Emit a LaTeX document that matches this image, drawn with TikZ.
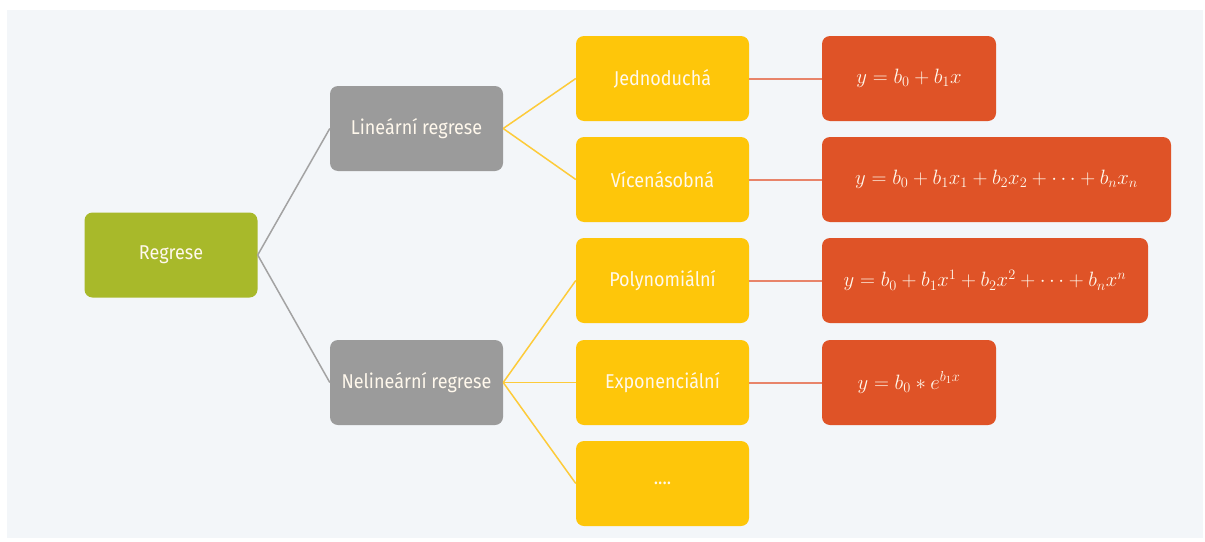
\documentclass[tikz,border=0pt]{standalone}
\usepackage{fontspec}
\newfontfamily\labfont[FakeStretch=0.9]{Fira Sans}
\definecolor{panel}{HTML}{F3F6F9}
\definecolor{cgreen}{HTML}{A8B92A}
\definecolor{cgray}{HTML}{9B9B9B}
\definecolor{cyellow}{HTML}{FEC60A}
\definecolor{corange}{HTML}{DF5327}
\definecolor{lgray}{HTML}{A3A3A3}
\definecolor{lyellow}{HTML}{FDCB3A}
\definecolor{lsalmon}{HTML}{E8846A}
\definecolor{ctext}{HTML}{FFF8EC}
\begin{document}
\begin{tikzpicture}[x=1pt,y=-1pt,
  box/.style={rectangle, rounded corners=8pt, minimum width=173pt, minimum height=85pt,
    inner sep=0pt, text=ctext, font=\labfont\fontsize{20}{24}\selectfont},
  greenbox/.style={box, fill=cgreen},
  graybox/.style={box, fill=cgray},
  yellowbox/.style={box, fill=cyellow},
  eqbox/.style={box, fill=corange, font=\fontsize{21.5}{26}\selectfont},
  gline/.style={draw=lgray, line width=1.5pt},
  yline/.style={draw=lyellow, line width=1.5pt},
  sline/.style={draw=lsalmon, line width=2pt}]
\useasboundingbox (0,0) rectangle (1205,541);
\fill[panel] (7,10) rectangle (1203,538);

\node[greenbox] (reg) at (171,255) {Regrese};
\node[graybox] (lin) at (416.5,128.5) {Lineární regrese};
\node[graybox] (nelin) at (416.5,382.5) {Nelineární regrese};

\node[yellowbox] (jed) at (662.5,78.5) {Jednoduchá};
\node[yellowbox] (vic) at (662.5,179.5) {Vícenásobná};
\node[yellowbox] (pol) at (662.5,280.5) {Polynomiální};
\node[yellowbox] (expo) at (662.5,382.5) {Exponenciální};
\node[yellowbox] (dots) at (662.5,483.5) {....};

\node[eqbox, minimum width=174pt] (f1) at (909,78.5) {\raisebox{3pt}{$y = b_0 + b_1x$}};
\node[eqbox, minimum width=349pt] (f2) at (996.5,179.5) {\raisebox{2pt}{$y = b_0 + b_1x_1 + b_2x_2 + \cdots + b_nx_n$}};
\node[eqbox, minimum width=326pt] (f3) at (985,280.5) {\raisebox{2pt}{$y = b_0 + b_1x^1 + b_2x^2 + \cdots + b_nx^n$}};
\node[eqbox, minimum width=174pt] (f4) at (909,382.5) {\raisebox{3pt}{$y = b_0 * e^{b_1x}$}};

\draw[gline] (reg.east) -- (lin.west);
\draw[gline] (reg.east) -- (nelin.west);
\draw[yline] (lin.east) -- (jed.west);
\draw[yline] (lin.east) -- (vic.west);
\draw[yline] (nelin.east) -- (pol.west);
\draw[yline] (nelin.east) -- (expo.west);
\draw[yline] (nelin.east) -- (dots.west);
\draw[sline] (jed.east) -- (f1.west);
\draw[sline] (vic.east) -- (f2.west);
\draw[sline] (pol.east) -- (f3.west);
\draw[sline] (expo.east) -- (f4.west);
\end{tikzpicture}
\end{document}
